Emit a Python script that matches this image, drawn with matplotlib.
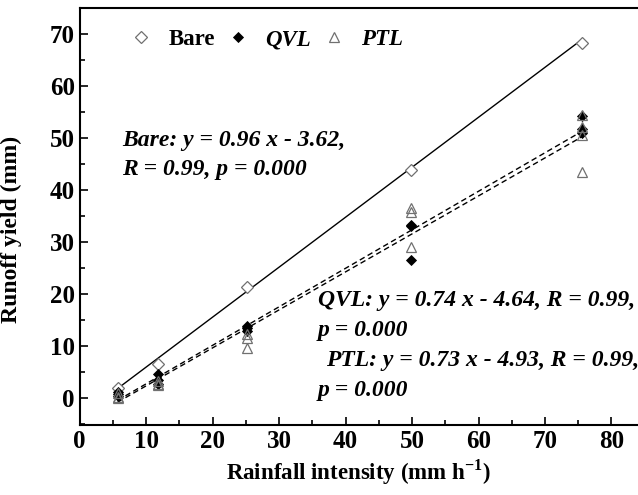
import matplotlib.pyplot as plt
from matplotlib.ticker import MultipleLocator

# rainfall intensity (mm/h)
intensity = [5.7, 11.7, 25.2, 49.8, 75.6]

# runoff yield (mm), replicates per intensity
bare = [2.0, 6.5, 21.3, 43.9, 68.3]
qvl = [[1.2, 0.8, 0.4], [4.6, 3.5, 2.8], [13.8, 13.4, 13.0],
       [33.2, 33.0, 26.5], [54.3, 51.8, 51.0]]
ptl = [[0.9, 0.3, 0.0], [3.2, 2.8, 2.6], [12.4, 11.5, 9.7],
       [36.5, 35.7, 29.0], [54.5, 52.2, 50.5, 43.5]]

# regression coefficients (slope, intercept)
fit_bare = (0.96, -3.62)
fit_qvl = (0.74, -4.64)
fit_ptl = (0.73, -4.93)

plt.rcParams['font.family'] = ['Liberation Serif', 'DejaVu Serif']
plt.rcParams['font.weight'] = 'bold'
plt.rcParams['mathtext.fontset'] = 'custom'
plt.rcParams['mathtext.rm'] = 'Liberation Serif:bold'
plt.rcParams['mathtext.bf'] = 'Liberation Serif:bold'

fig = plt.figure(figsize=(6.38, 4.95), dpi=100)
ax = fig.add_axes([0.125, 0.141, 0.875, 0.843])

def expand(xs, groups):
    px, py = [], []
    for x, g in zip(xs, groups):
        for v in g:
            px.append(x)
            py.append(v)
    return px, py

x0, x1 = intensity[0], intensity[-1]
ax.plot([x0, x1], [fit_bare[0] * x0 + fit_bare[1], fit_bare[0] * x1 + fit_bare[1]],
        color='black', lw=1.0)
ax.plot([x0, x1], [fit_qvl[0] * x0 + fit_qvl[1], fit_qvl[0] * x1 + fit_qvl[1]],
        color='black', lw=1.0, ls=(0, (4, 2.5)))
ax.plot([x0, x1], [fit_ptl[0] * x0 + fit_ptl[1], fit_ptl[0] * x1 + fit_ptl[1]],
        color='black', lw=1.0, ls=(0, (4, 2.5)))

ax.plot(intensity, bare, ls='none', marker='D', ms=6, mfc='white',
        mec='#707070', mew=0.9, label='Bare')
qx, qy = expand(intensity, qvl)
ax.plot(qx, qy, ls='none', marker='D', ms=5.5, mfc='black',
        mec='black', mew=0.6, label='QVL')
tx, ty = expand(intensity, ptl)
ax.plot(tx, ty, ls='none', marker='^', ms=7, mfc='none',
        mec='#707070', mew=0.9, label='PTL')

ax.set_xlim(0, 84)
ax.set_ylim(-5.2, 75)
ax.xaxis.set_major_locator(MultipleLocator(10))
ax.xaxis.set_minor_locator(MultipleLocator(5))
ax.yaxis.set_major_locator(MultipleLocator(10))
ax.yaxis.set_minor_locator(MultipleLocator(5))
ax.tick_params(which='both', direction='in', top=False, right=False,
               labelsize=18, width=1.2)
ax.tick_params(which='major', length=6)
ax.tick_params(which='minor', length=3.5)
for lab in ax.get_xticklabels() + ax.get_yticklabels():
    lab.set_fontweight('bold')
ax.spines['right'].set_visible(False)
for s in ['left', 'bottom', 'top']:
    ax.spines[s].set_linewidth(1.5)

ax.set_xlabel('Rainfall intensity (mm h$^{\\mathrm{-1}}$)', fontsize=16.5,
              fontweight='bold', labelpad=3)
ax.set_ylabel('Runoff yield (mm)', fontsize=17, fontweight='bold')
ax.yaxis.set_label_coords(-0.104, 0.47)

leg = ax.legend(loc='upper left', ncol=3, frameon=False, fontsize=16.5,
                handletextpad=0.6, columnspacing=0.4, handlelength=1.2,
                bbox_to_anchor=(0.048, 0.998))
for t in leg.get_texts():
    t.set_fontweight('bold')
    if t.get_text() != 'Bare':
        t.set_fontstyle('italic')

tkw = dict(fontsize=17, fontweight='bold', fontstyle='italic',
           transform=ax.transData)
ax.text(6.4, 49.6, 'Bare: y = 0.96 x - 3.62,', va='center', **tkw)
ax.text(6.4, 43.9, 'R = 0.99, p = 0.000', va='center', **tkw)
ax.text(35.8, 18.8, 'QVL: y = 0.74 x - 4.64, R = 0.99,', va='center', **tkw)
ax.text(35.8, 13.0, 'p = 0.000', va='center', **tkw)
ax.text(37.1, 7.2, 'PTL: y = 0.73 x - 4.93, R = 0.99,', va='center', **tkw)
ax.text(35.8, 1.4, 'p = 0.000', va='center', **tkw)

fig.savefig('out.png', dpi=100)
